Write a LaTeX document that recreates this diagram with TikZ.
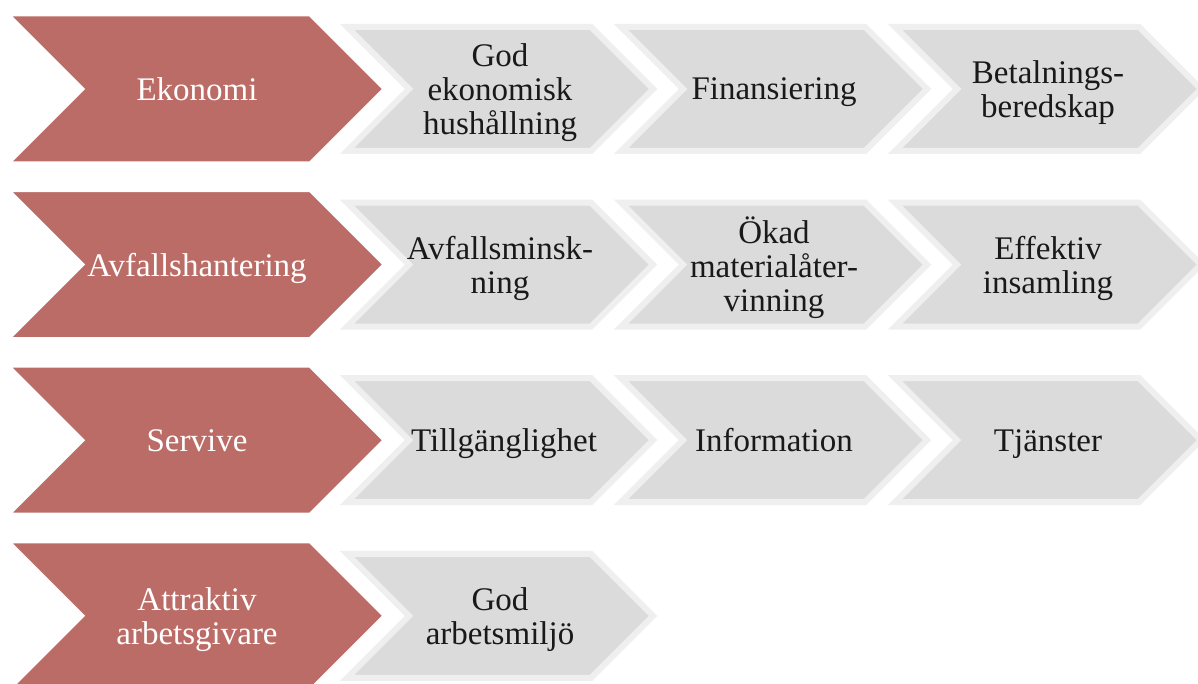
\documentclass[tikz,border=0pt]{standalone}
\usepackage{fontspec}
\setmainfont{Liberation Serif}
\usepackage{tikz}

\definecolor{ekored}{HTML}{BC6C66}
\definecolor{chevgrey}{HTML}{DBDBDB}
\definecolor{chevedge}{HTML}{EFEFEF}
\newcommand{\chevfont}{\fontsize{16.5}{17}\selectfont}

\tikzset{
  redchev/.style={fill=ekored, draw=white, line width=1.5pt, line join=miter},
  greychev/.style={fill=chevgrey, draw=chevedge, line width=3pt, line join=miter},
  redtext/.style={text=white, align=center, font=\chevfont, text depth=0pt},
  greytext/.style={text=black!90, align=center, font=\chevfont, text depth=0pt},
}

\begin{document}
\begin{tikzpicture}[x=0.5pt, y=-0.5pt]
  % 0. Frame of the picture
  \useasboundingbox (0,0) rectangle (1198,684);

  % 1. Grey chevrons, behind the red ones
  \foreach \cy/\n in {89/3, 264.6/3, 440.2/3, 615.8/1}
    \foreach \k in {1,...,\n} {
      \pgfmathsetmacro{\cx}{500+274*(\k-1)}
      \draw[greychev] (\cx-153,\cy-62) -- ++(244,0) -- ++(62,62) -- ++(-62,62)
        -- ++(-244,0) -- ++(62,-62) -- cycle;
    }

  % 2. Red chevrons
  \foreach \cy in {89, 264.6, 440.2, 615.8}
    \draw[redchev] (9,\cy-74) -- ++(301,0) -- ++(74,74) -- ++(-74,74)
      -- ++(-301,0) -- ++(74,-74) -- cycle;

  % 3. Row labels
  \node[redtext] (eko) at (197,89) {Ekonomi};
  \node[redtext] (avf) at (197,264.6) {Avfallshantering};
  \node[redtext] (ser) at (197,440.2) {Servive};
  \node[redtext] (arb) at (197,615.8) {Attraktiv\\arbetsgivare};

  % 4. Goals in each row
  \node[greytext] (eko-1) at (500,89) {God\\ekonomisk\\hushållning};
  \node[greytext] (eko-2) at (774,89) {Finansiering};
  \node[greytext] (eko-3) at (1048,89) {Betalnings-\\beredskap};

  \node[greytext] (avf-1) at (500,264.6) {Avfallsminsk-\\ning};
  \node[greytext] (avf-2) at (774,264.6) {Ökad\\materialåter-\\vinning};
  \node[greytext] (avf-3) at (1048,264.6) {Effektiv\\insamling};

  \node[greytext] (ser-1) at (504,440.2) {Tillgänglighet};
  \node[greytext] (ser-2) at (774,440.2) {Information};
  \node[greytext] (ser-3) at (1048,440.2) {Tjänster};

  \node[greytext] (arb-1) at (500,615.8) {God\\arbetsmiljö};
\end{tikzpicture}
\end{document}
